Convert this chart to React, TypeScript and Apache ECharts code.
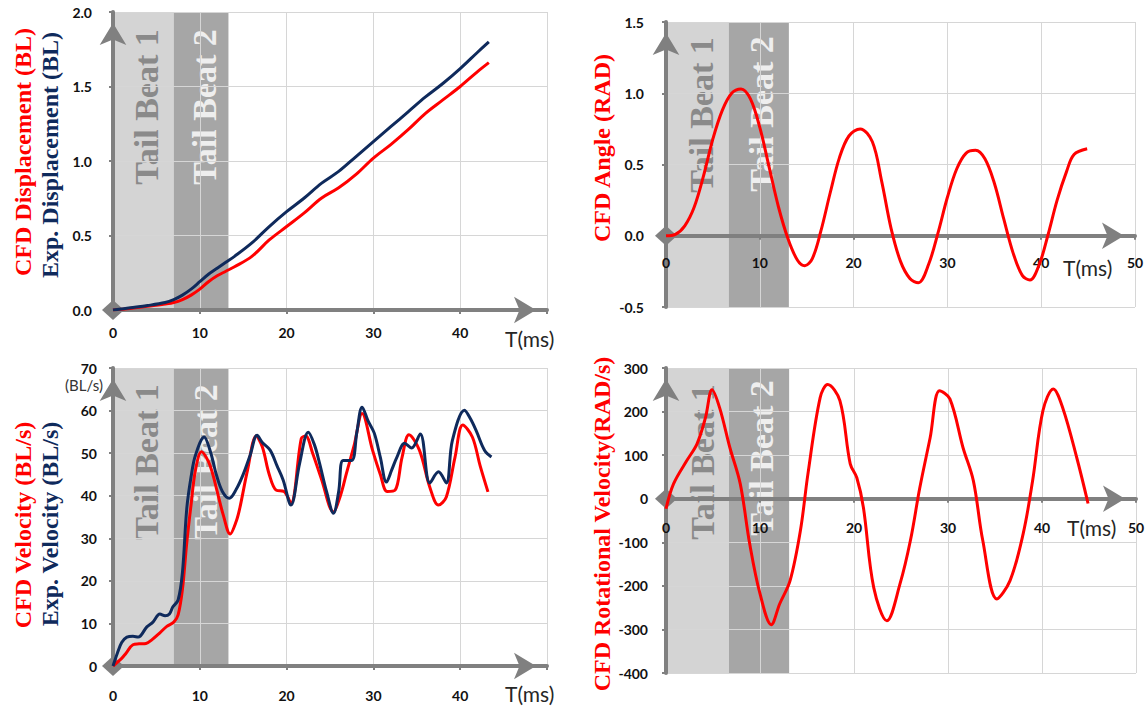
import React, { useEffect, useRef } from "react";
import * as echarts from "echarts";

// ---------- data ----------
const dispT = [0, 2, 4, 6, 7, 8, 9, 10, 11, 12, 13, 14, 16, 18, 20, 22, 24, 26, 28, 30, 32, 34, 36, 38, 40, 42, 43.3];
const dispCFD = [0, 0.01, 0.025, 0.04, 0.05, 0.07, 0.1, 0.14, 0.19, 0.23, 0.26, 0.29, 0.36, 0.47, 0.56, 0.65, 0.75, 0.82, 0.91, 1.02, 1.11, 1.21, 1.32, 1.41, 1.5, 1.6, 1.66];
const dispExp = [0, 0.015, 0.03, 0.05, 0.07, 0.1, 0.14, 0.19, 0.24, 0.28, 0.32, 0.36, 0.45, 0.56, 0.66, 0.75, 0.85, 0.93, 1.03, 1.13, 1.23, 1.33, 1.43, 1.52, 1.62, 1.73, 1.8];

const angleT = [0, 1, 2, 3, 4, 5, 6, 7, 8, 9, 10, 11, 12, 13, 14, 14.8, 15.6, 16.5, 17.5, 18.5, 19.5, 20.7, 22, 23, 24, 25, 26, 26.9, 28, 29, 30, 31, 32, 33, 34, 35, 36, 37, 38, 38.8, 39.8, 40.7, 41.7, 42.7, 43.5, 44.9];
const angleCFD = [0, 0.01, 0.07, 0.2, 0.42, 0.68, 0.88, 1.0, 1.03, 0.96, 0.76, 0.48, 0.2, -0.02, -0.17, -0.21, -0.16, 0.03, 0.3, 0.55, 0.7, 0.75, 0.66, 0.38, 0.05, -0.18, -0.3, -0.33, -0.2, 0.02, 0.27, 0.47, 0.58, 0.6, 0.54, 0.37, 0.12, -0.12, -0.28, -0.31, -0.2, 0.0, 0.25, 0.45, 0.57, 0.61];

const velCfdT = [0, 1, 1.5, 2.3, 3, 3.8, 4.5, 5.4, 6.2, 7, 7.5, 8, 8.5, 9, 9.5, 10.2, 11, 11.5, 12, 12.7, 13.5, 14.2, 14.6, 15.5, 16.5, 17.2, 18, 18.8, 19.7, 20.5, 21.7, 22.2, 23, 24, 25.4, 26.2, 26.9, 27.8, 28.7, 29.9, 30.8, 31.6, 32.5, 33.3, 34.1, 35.3, 36.5, 37.5, 38.4, 39.4, 40.3, 41.4, 42.3, 43.2];
const velCFD = [0, 1.8, 3, 5, 5.2, 5.3, 6.2, 7.8, 9.3, 10.3, 12, 18, 29, 38, 46, 50.3, 48, 45, 41, 35.5, 31, 34, 37, 46, 54, 51.5, 45, 41.3, 41, 38.3, 53.5, 54, 50, 44, 36.2, 40, 45.3, 52, 59.3, 50.7, 45, 41, 41.3, 49, 54.3, 50.7, 42, 37.8, 39.7, 49, 56.6, 53.8, 47, 40.9];

const velExpT = [0, 0.5, 1, 1.6, 2.3, 2.9, 3.9, 4.6, 5.4, 6, 6.5, 6.9, 7.5, 8, 8.5, 9, 9.5, 10.5, 11.2, 11.9, 12.6, 13.4, 14.2, 15, 15.8, 16.6, 17.2, 18.1, 18.9, 19.6, 20.5, 21.5, 22.5, 23.2, 23.8, 24.6, 25.4, 26, 26.5, 27.5, 28.1, 28.7, 29.4, 30.1, 30.8, 31.5, 32.1, 32.7, 33.6, 34.4, 35.4, 36.5, 37.5, 38.4, 39.1, 40.5, 41.2, 41.9, 42.8, 43.6];
const velExp = [0, 3, 5.5, 6.8, 7, 6.8, 9.2, 10.3, 12.2, 11.8, 12.2, 13.9, 15.5, 22, 37, 44.5, 49.5, 53.8, 50.5, 45, 41, 39.4, 41.5, 45, 49.5, 54.2, 52.5, 50.7, 47, 43.7, 37.8, 47.6, 54.9, 52, 47.6, 41, 35.9, 41, 48.3, 48.3, 55, 60.8, 57.5, 54.7, 49, 43.2, 46, 49, 52.3, 51.2, 54.5, 43, 45.6, 43, 53, 60.1, 58, 55, 50.7, 49.1];

const rotT = [0, 0.8, 2.2, 3.3, 4.2, 4.9, 5.7, 6.8, 7.9, 8.9, 10, 11.2, 12.1, 13.2, 14.3, 15.1, 16.4, 17.2, 18.5, 19.6, 20.3, 21, 22.1, 23.5, 24.9, 26, 27, 28.1, 29.1, 30.2, 31.6, 32.7, 33.7, 35.2, 36.6, 38, 39, 40.1, 41.2, 42.2, 43.7, 44.9];
const rotCFD = [-23, 34, 87, 126, 186, 250, 209, 117, 34, -103, -218, -289, -241, -188, -73, 57, 232, 262, 225, 80, 48, -20, -204, -280, -195, -96, 25, 140, 248, 229, 117, 41, -96, -230, -188, -80, 41, 202, 252, 209, 94, -11];

const tailBeatLeft = [0, 7, 13.3];
const tailBeatRight = [0, 6.7, 13.1];
const tailBeatNames = ["Tail Beat 1", "Tail Beat 2"];

const yRanges = [
  { min: 0, max: 2, interval: 0.5, dec: 1 },
  { min: -0.5, max: 1.5, interval: 0.5, dec: 1 },
  { min: 0, max: 70, interval: 10, dec: 0 },
  { min: -400, max: 300, interval: 100, dec: 0 },
];

// ---------- style ----------
const RED = "#ff0000";
const NAVY = "#0f2a5c";
const AXIS = "#808080";
const GRIDC = "#d6d6d6";
const BAND1 = "#d4d4d4";
const BAND2 = "#a6a6a6";
const SERIF = '"Liberation Serif", "Times New Roman", serif';
const SANS = 'Lato, "Open Sans", sans-serif';

const grids = [
  { left: 113, top: 12, width: 434, height: 298 },
  { left: 666, top: 22, width: 469, height: 285 },
  { left: 113, top: 368, width: 434, height: 298 },
  { left: 666, top: 368, width: 470, height: 305 },
];
const xLabelMargins = [15, 20, 22, 22];
const yLabelMargins = [21, 22, 16, 18];

const zip = (t: number[], v: number[]) => t.map((x, i) => [x, v[i]]);

function App() {
  const ref = useRef<HTMLDivElement>(null);
  useEffect(() => {
    if (!ref.current) return;
    const chart = echarts.init(ref.current, undefined, { renderer: "svg" });

    const xAxis = grids.map((g, i) => {
      const r = yRanges[i];
      // lift the x axis (line, ticks, labels) to the y = 0 row
      const zeroOffset = -g.height * ((0 - r.min) / (r.max - r.min));
      return {
        type: "value",
        gridIndex: i,
        position: "bottom",
        offset: zeroOffset,
        min: 0,
        max: 50,
        interval: 10,
        z: 3,
        axisLine: {
          onZero: false,
          lineStyle: { color: AXIS, width: 4 },
          symbol: ["diamond", "arrow"],
          symbolSize: [20, 22],
          symbolOffset: [0, -11],
        },
        axisTick: { show: true, length: 4, lineStyle: { color: AXIS, width: 2 } },
        axisLabel: {
          margin: xLabelMargins[i],
          fontFamily: SANS,
          fontWeight: "bold",
          fontSize: 14,
          color: "#111",
          formatter: (v: number) => ((i === 0 || i === 2) && v === 50 ? "" : String(v)),
        },
        splitLine: { show: true, lineStyle: { color: GRIDC, width: 1 } },
      };
    });

    const yAxis = grids.map((_, i) => ({
      type: "value",
      gridIndex: i,
      min: yRanges[i].min,
      max: yRanges[i].max,
      interval: yRanges[i].interval,
      z: 3,
      axisLine: {
        show: true,
        onZero: false,
        lineStyle: { color: AXIS, width: 4 },
        symbol: ["none", "arrow"],
        symbolSize: [20, 22],
        symbolOffset: [0, -11],
      },
      axisTick: { show: true, length: 4, lineStyle: { color: AXIS, width: 2 } },
      axisLabel: {
        margin: yLabelMargins[i],
        fontFamily: SANS,
        fontWeight: "bold",
        fontSize: 14,
        color: "#111",
        formatter: (v: number) => v.toFixed(yRanges[i].dec),
      },
      splitLine: { show: true, lineStyle: { color: GRIDC, width: 1 } },
    }));

    const bandSeries = grids.map((_, i) => {
      const e = i % 2 === 0 ? tailBeatLeft : tailBeatRight;
      return {
        type: "line",
        xAxisIndex: i,
        yAxisIndex: i,
        z: 1,
        silent: true,
        showSymbol: false,
        lineStyle: { width: 0, opacity: 0 },
        data: [[0, yRanges[i].min]],
        markArea: {
          silent: true,
          z: 1,
          label: { show: false },
          data: [
            [{ xAxis: e[0], itemStyle: { color: BAND1 } }, { xAxis: e[1] }],
            [{ xAxis: e[1], itemStyle: { color: BAND2 } }, { xAxis: e[2] }],
          ],
        },
      };
    });

    const line = (i: number, data: number[][], color: string) => ({
      type: "line",
      xAxisIndex: i,
      yAxisIndex: i,
      z: 4,
      smooth: 0.35,
      showSymbol: false,
      symbol: "none",
      lineStyle: { color, width: 3 },
      data,
    });

    const dataSeries = [
      line(0, zip(dispT, dispCFD), RED),
      line(0, zip(dispT, dispExp), NAVY),
      line(1, zip(angleT, angleCFD), RED),
      line(2, zip(velCfdT, velCFD), RED),
      line(2, zip(velExpT, velExp), NAVY),
      line(3, zip(rotT, rotCFD), RED),
    ];

    const vText = (text: string, x: number, y: number, fill: string, size: number, z: number) => ({
      type: "text",
      x,
      y,
      rotation: Math.PI / 2,
      z,
      style: {
        text,
        fill,
        font: `bold ${size}px ${SERIF}`,
        align: "center",
        verticalAlign: "middle",
      },
    });
    const hText = (text: string, x: number, y: number, size: number) => ({
      type: "text",
      x,
      y,
      z: 6,
      style: {
        text,
        fill: "#262626",
        font: `${size}px ${SANS}`,
        align: "left",
        verticalAlign: "middle",
      },
    });

    const tbPos = [
      [[146, 107], [204, 107]],
      [[701, 115], [761, 114]],
      [[146, 462], [205, 462]],
      [[702, 462], [761, 458]],
    ];
    const tbGraphics: any[] = [];
    tbPos.forEach((p) => {
      tbGraphics.push(vText(tailBeatNames[0], p[0][0], p[0][1], "#8a8a8a", 34, 2));
      tbGraphics.push(vText(tailBeatNames[1], p[1][0], p[1][1], "#eeeeee", 34, 2));
    });

    const graphic = [
      ...tbGraphics,
      vText("CFD Displacement (BL)", 23, 152, RED, 24, 6),
      vText("Exp. Displacement (BL)", 50, 155, NAVY, 24, 6),
      vText("CFD Angle (RAD)", 602, 148, RED, 24, 6),
      vText("CFD Velocity (BL/s)", 23, 525, RED, 24, 6),
      vText("Exp. Velocity (BL/s)", 50, 524, NAVY, 24, 6),
      vText("CFD Rotational Velocity(RAD/s)", 602, 524, RED, 24, 6),
      hText("T(ms)", 505, 338, 21),
      hText("T(ms)", 1063, 267, 21),
      hText("T(ms)", 505, 693, 21),
      hText("T(ms)", 1067, 527, 21),
      {
        type: "text",
        x: 84,
        y: 385,
        z: 6,
        style: { text: "(BL/s)", fill: "#333", font: `15px ${SANS}`, align: "center", verticalAlign: "middle" },
      },
    ];

    chart.setOption({
      animation: false,
      backgroundColor: "#ffffff",
      grid: grids.map((g) => ({ ...g, containLabel: false })),
      xAxis,
      yAxis,
      series: [...bandSeries, ...dataSeries],
      graphic,
    });

    return () => chart.dispose();
  }, []);

  return (
    <div
      ref={ref}
      style={{ position: "fixed", left: 0, top: 0, width: 1148, height: 710, background: "#fff" }}
    />
  );
}

export default App;
